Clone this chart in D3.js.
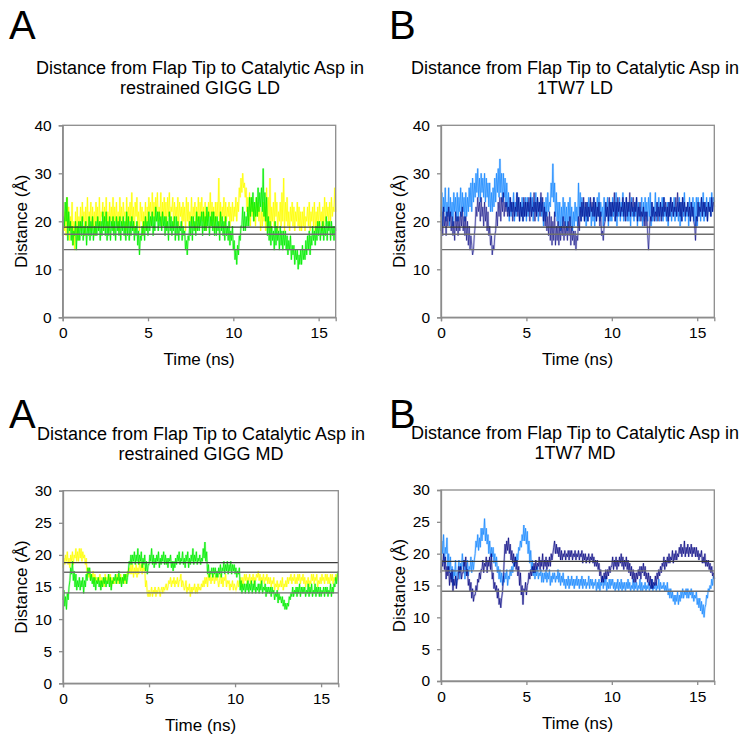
<!DOCTYPE html>
<html>
<head>
<meta charset="utf-8">
<script src="https://cdn.jsdelivr.net/npm/d3@7"></script>
<style>
  body { margin: 0; background: #fff; }
  svg text { font-family: Arial, "Liberation Sans", sans-serif; fill: #000; }
</style>
</head>
<body>
<svg width="743" height="736"></svg>
<script>
// sample times, 0.05 ns apart
const timeNs = d3.range(0, 321).map(i => i / 20);
const xTicks = [0, 5, 10, 15];
const yTicksLD = [0, 10, 20, 30, 40];
const yTicksMD = [0, 5, 10, 15, 20, 25, 30];
const refLines = [18.8, 17.3, 14.1];

// restrained GIGG LD (one row per ns)
const giggLDYellow = [
  21,24,18,22,17,25,19,23,16,21,18,24,15,20,14,22,17,23,16,21,
  19,23,18,24,20,22,17,23,19,25,18,22,20,24,18,23,19,22,17,24,
  20,23,18,25,19,22,21,24,18,23,20,25,19,22,18,24,20,23,19,25,
  18,23,20,24,19,22,18,25,20,23,19,24,21,22,18,25,19,23,20,24,
  19,26,20,23,18,24,21,25,19,22,18,24,20,23,17,22,19,24,18,23,
  20,25,22,24,19,26,21,24,20,25,22,26,20,23,21,26,19,24,21,25,
  20,24,19,25,21,26,20,23,22,25,19,24,21,23,20,25,19,24,21,23,
  19,24,20,23,18,25,20,24,19,22,20,25,19,23,21,24,18,23,20,25,
  19,24,21,25,20,23,19,24,18,22,20,24,21,26,19,24,20,23,18,24,
  20,24,21,29,19,24,20,23,21,25,19,24,20,23,21,24,19,23,20,24,
  20,23,21,25,20,24,22,27,25,29,26,30,27,28,25,27,22,25,20,26,
  19,25,21,24,20,23,19,25,21,24,20,23,18,22,19,24,20,23,18,27,
  19,25,20,29,18,23,20,24,19,26,21,24,18,22,20,24,19,26,20,29,
  18,24,20,25,19,22,18,23,20,24,19,23,18,22,20,24,19,23,18,22,
  18,22,19,23,18,21,20,23,19,24,18,22,20,23,19,24,18,22,19,23,
  19,24,20,22,18,23,19,25,20,24,21,23,19,24,20,25,21,23,22,27,
  22];
const giggLDGreen = [
  17,21,19,24,20,25,16,22,18,20,16,19,15,18,17,20,14,19,16,20,
  16,20,17,21,16,19,17,20,15,19,17,21,16,20,17,21,16,19,17,20,
  17,21,18,20,16,20,17,22,18,21,17,22,16,20,17,21,16,20,18,21,
  17,20,16,21,18,20,17,21,16,20,18,21,17,20,16,22,17,21,16,20,
  17,21,18,20,16,19,17,20,15,18,13,17,16,19,17,20,16,21,18,20,
  17,22,18,21,19,22,17,21,18,23,20,22,18,22,19,21,18,22,19,21,
  17,21,18,20,16,22,18,21,17,20,18,21,16,21,17,20,16,19,18,20,
  16,19,17,18,14,16,13,17,16,20,17,21,16,21,18,20,17,22,18,21,
  18,21,19,22,17,22,18,21,18,23,19,22,17,21,19,22,18,22,17,21,
  17,21,18,20,16,22,18,21,17,20,16,21,17,19,16,20,15,18,16,19,
  14,16,12,14,11,15,13,17,16,19,19,23,18,22,18,21,19,23,19,25,
  21,25,22,26,20,24,21,25,21,27,22,26,23,27,22,31,21,26,20,25,
  17,21,16,20,15,19,16,18,14,20,15,19,16,18,14,19,15,18,14,18,
  15,18,14,17,13,16,14,17,12,15,13,15,11,14,12,14,10,13,11,14,
  11,15,12,14,12,16,13,17,14,18,13,17,15,19,16,18,15,19,16,20,
  17,20,16,19,17,20,16,19,17,21,16,20,18,20,16,20,17,19,16,19,
  18];

// 1TW7 LD
const tw7LDNavy = [
  18,22,17,23,19,21,17,22,19,23,20,22,18,21,17,20,16,22,18,21,
  17,21,18,22,19,23,18,21,17,21,16,20,15,19,14,17,15,13,14,17,
  19,23,21,25,22,24,20,25,21,23,19,24,20,23,18,22,17,19,15,17,
  13,15,14,17,18,22,19,24,21,25,20,25,22,26,21,24,22,24,21,23,
  21,25,22,24,20,24,21,23,22,26,21,25,20,24,21,23,20,25,21,24,
  21,24,22,25,20,25,21,23,22,26,20,24,21,25,22,24,21,26,22,25,
  20,23,19,22,18,21,17,22,16,21,15,20,16,22,15,19,16,20,15,19,
  16,19,17,21,16,20,17,19,16,20,17,21,15,19,16,18,15,18,14,17,
  16,21,18,23,20,24,21,25,20,24,21,24,20,23,21,25,22,24,21,25,
  21,24,20,23,21,24,19,22,17,18,16,19,20,24,21,23,20,25,21,24,
  21,24,22,26,20,24,21,25,22,24,21,23,22,25,21,24,20,25,21,24,
  22,26,21,24,22,25,21,24,22,25,20,23,21,24,20,22,21,23,19,22,
  19,22,17,14,18,21,20,24,21,23,20,22,21,24,20,23,21,24,20,23,
  21,25,22,24,21,23,20,24,21,25,22,24,21,23,22,25,21,26,22,24,
  21,24,20,25,22,24,21,23,22,24,21,23,20,24,21,23,20,19,16,21,
  20,24,21,23,22,25,21,24,22,24,21,23,20,24,22,23,21,25,22,24,
  23];
const tw7LDBlue = [
  21,26,19,25,22,27,20,24,21,27,19,25,21,24,19,26,22,25,20,26,
  20,25,22,27,21,26,22,25,20,26,21,25,22,27,23,28,22,29,24,28,
  25,30,26,31,25,29,24,30,26,29,25,30,24,29,25,28,23,28,22,26,
  22,27,23,29,24,30,26,31,25,33,26,30,24,30,25,29,23,28,22,26,
  20,25,21,24,22,26,20,24,21,26,22,25,20,24,21,25,20,24,21,25,
  20,25,21,24,22,26,21,25,20,24,22,26,21,25,20,24,22,25,21,24,
  19,24,20,25,21,26,22,24,23,28,25,32,24,28,21,26,20,24,19,24,
  18,23,19,25,20,24,19,23,18,24,20,25,19,23,18,22,19,24,20,23,
  19,28,21,26,20,25,21,24,20,23,19,24,20,25,21,24,19,23,20,25,
  19,24,20,25,21,26,20,24,21,23,19,25,20,24,21,25,19,24,20,24,
  20,25,21,24,20,26,19,24,21,25,20,24,21,26,20,24,21,25,20,24,
  20,24,19,25,21,23,20,24,21,25,19,24,20,23,21,25,19,24,20,25,
  21,24,20,25,21,26,19,24,20,23,21,26,20,24,21,25,20,24,21,25,
  20,25,21,23,20,24,19,24,21,25,20,24,21,25,20,23,21,24,20,25,
  19,24,20,25,21,26,20,23,21,24,19,25,20,24,21,25,20,24,19,25,
  19,25,21,24,20,25,21,26,20,24,21,25,20,24,22,25,21,26,22,25,
  24];

// restrained GIGG MD
const giggMDYellow = [
  18,19.5,18.5,20,19,20.5,18.5,19.5,18,20,19,20.5,18.5,20,19.5,21,19,20.5,19,21,
  19.5,21,19,20.5,19.5,20,18.5,19.5,17,18,16.5,17.5,16,17,16.5,17.5,15.5,17,16,16.5,
  15.5,16.5,16,17,15,16.5,15.5,16,15,17,16,16.5,15.5,17,16,17,15,16.5,15.5,16,
  15.5,16.5,16,17,15.5,16.5,16,17,15.5,16.5,16,17,15.5,17,16.5,17.5,17,18,17,18.5,
  17,18.5,16.5,18,17,18.5,16.5,18,17,19,17.5,18.5,17,18.5,17.5,18,15,16,14,13.5,
  14.5,13.5,14,15,13.5,14.5,14,15,13.5,14.5,14,15,14.5,13.5,14.5,15,14,15,14.5,15,
  15.5,14.5,15,16,15.5,16.5,15,16,15.5,16.5,15,16,15.5,16.5,15,16,16,17,15,16,
  15.5,14.5,15,16,14,15,14.5,15.5,13.5,15,14,15,14.5,15.5,14,15,14,15.5,14.5,15,
  14.5,15.5,15,16,15,16.5,15.5,16.5,15,17,16,17,15.5,16.5,16,17,15.5,16.5,16,17,
  16,15,16,17,15.5,16.5,15,16.5,16,17,15,16,15.5,16,14.5,15.5,15,16,14.5,15.5,
  15,14.5,15,16,15,16,15.5,16.5,15,16.5,15.5,17,16,17,15.5,16.5,16,17,15.5,16.5,
  16,17,15.5,16.5,16,17,16.5,17.5,16,17,15.5,16.5,16,17,15.5,16.5,16,17,15.5,16.5,
  15.5,16.5,15,16,15.5,16.5,14.5,15.5,15,16,14.5,15.5,15,16,15,16.5,14.5,15.5,15,16,
  15,16.5,15.5,16.5,16,17,15.5,16.5,16,17,15.5,16.5,15.5,17,16,17,15.5,16.5,16,17,
  15.5,16.5,15,16,15.5,16.5,15,16,15.5,17,16,17,15.5,16.5,16,17,15,16,15.5,16.5,
  15.5,17,16,16.5,15.5,17,16,17,15.5,16.5,15.5,17,16,17,15.5,16.5,16,17,16,17,
  16.5];
const giggMDGreen = [
  13,14.5,12,13.5,11.5,14,13,15,16,18,17,19,16,17.5,15,17,14.5,16,15,16.5,
  14.5,16,15,16.5,14,16,15,17,16,18,17,18,16,17,15.5,16.5,15,16.5,14.5,16,
  15.5,16.5,15,16,14.5,16,15,16.5,15.5,16.5,15,16,15.5,17,15,16.5,14.5,16,15.5,16.5,
  16,17,15.5,16.5,16,17.5,15.5,16.5,15,16.5,15.5,17,16,17,15.5,16.5,17.5,19,18.5,20,
  18.5,20,19,20.5,18.5,20,19,21,18.5,20,19,20.5,18,19.5,18.5,20,17.5,19,17,18.5,
  18.5,20,19,21,18.5,20,18,19.5,18.5,20,19,20.5,18,19.5,18.5,20,19,20.5,18.5,20,
  18.5,19.5,18,19.5,19,20,18,19,17.5,19,18,19.5,18.5,20,19,20.5,18.5,19.5,19,20.5,
  18.5,19.5,18,20,19,20.5,18,19.5,18.5,20,19,21,18.5,20,19,20.5,18.5,19.5,19,20,
  18.5,19.5,19,21,19.5,22,19,20.5,17,18.5,16.5,17.5,17,18,16.5,18,17,18,16.5,17.5,
  16.5,18,17,18.5,16.5,18,17.5,19,17,18.5,17.5,19,17,18.5,17.5,19,17,18.5,17.5,18.5,
  17,18,16.5,17.5,17,18,14.5,16,14,15.5,14.5,15.5,14,15.5,14.5,16,14,15.5,14.5,16,
  14,15.5,14.5,16,14,15,14.5,15.5,14,15.5,14.5,16,14,15,14.5,15.5,13.5,15,14,15,
  14,15,13.5,15,14,14.5,13,14,13.5,14.5,12.5,14,13,13.5,12.5,13.5,12,13,11.5,12.5,
  11.5,12.5,12,13.5,13,14,13.5,15,13.5,14.5,14,15,13.5,15,14,15.5,13.5,15,14,15,
  14,15,13.5,14.5,14,15.5,13.5,15,14,15.5,13.5,14.5,14,15.5,13.5,15,14,15,13.5,15,
  13.5,14.5,14,15,13.5,15,14,15,13.5,14.5,14,15.5,13.5,15,14,15.5,15,16.5,15.5,17,
  17.5];

// 1TW7 MD
const tw7MDNavy = [
  17,19,18,20,17.5,19.5,16,18,16.5,18,15,17,15.5,17.5,14,16,15,16.5,14.5,16,
  16,18,17,18,16,17,17,19,18,19.5,16.5,17.5,15,16,14,15.5,13,14.5,12.5,13.5,
  13.5,15,14,16,15.5,17,16,17.5,17.5,19,17,18.5,18,19.5,17,19,18,19.5,17.5,20,
  16,17,14.5,15.5,14,15,13,14.5,12,13,11.5,13,14,16,19,21.5,20,22,20.5,22.5,
  20,21.5,19,20.5,18.5,20,18,19.5,17.5,19,16.5,18,15,17,13.5,15,12,14.5,14,15.5,
  13.5,15,15.5,17,16,17.5,16.5,18,17,18.5,17,19,17.5,18.5,18,19.5,17.5,19,18,20,
  17.5,19,18,19.5,17.5,19,18,19.5,18,20,19,20,21,22,20,21.5,20,21,19.5,21,
  19,20.5,19,20,19.5,20.5,19,20,19.5,20.5,19,20.5,19.5,20.5,19,20,19.5,20.5,19,20,
  19.5,20.5,19,20,19.5,20.5,18.5,20,19,20,18.5,19.5,19,20,18.5,19.5,19,20,18.5,19.5,
  18,19,18,19,17.5,18.5,16.5,17.5,15.5,16.5,15.5,17,16,17.5,16,17.5,16.5,18,17,18,
  18,19.5,17.5,19,18,19.5,17.5,19,18,19.5,18.5,20,18,19.5,17.5,19,18,19.5,17.5,19,
  17,18.5,16.5,18,16,17.5,15.5,17,15.5,17,16,17.5,16.5,18,16,18,17,18.5,16.5,18,
  16,17,15.5,17,15,16.5,14.5,16,14.5,15.5,15,16.5,15,17,16,17.5,16.5,18,17,18.5,
  18,19.5,17.5,19,18,19.5,18.5,20,18.5,19.5,19,20.5,18.5,20,19,20.5,19,20,19.5,21,
  20,21.5,19.5,21,20,22,19.5,21,20,21.5,19.5,21,20,21.5,19.5,21,20,21,19.5,21,
  19.5,20.5,19,20,19.5,20.5,18.5,19.5,18.5,20,18,19,18,19,17.5,18.5,17,18,16.5,17,
  16];
const tw7MDBlue = [
  19,22,20,23,18.5,21,20,22.5,17.5,20,17,19.5,16,18,15,17.5,16.5,19,15,17,
  17,19,16,18.5,17.5,20,18,19,16,18,17,19,16.5,18,17.5,19.5,17,19,17.5,19,
  20,22,21,23,20.5,22.5,21,24,22,24,23,25.5,22,24,21.5,23,20,22,19.5,21,
  19.5,21,18.5,20,18,19.5,17,18,16,17.5,15.5,17,15,16.5,15.5,17,16,17.5,15,16.5,
  16,17.5,16.5,18,17,18.5,18,19.5,18.5,20,19,21,20.5,22,21,23,22,24.5,22,24,
  21.5,23.5,20,22,18.5,20.5,17.5,19,16.5,18,16,17.5,16.5,18,16,17,16.5,17.5,15.5,17,
  15.5,17,16,17.5,15.5,17,16,17.5,15,16.5,15.5,17,16,17,15.5,16.5,16,17.5,15.5,17,
  15,16.5,15.5,17,15,16,14.5,16,15,16.5,14.5,16,15,16.5,15,16,14.5,16,15,16.5,
  15,16,14.5,16,15,16.5,14.5,16,15,16,14.5,15.5,15,16.5,14.5,16,15,16,14.5,15.5,
  15,16,14,15.5,14.5,16,14,15.5,15,16.5,14.5,16,15,16.5,14,15.5,14.5,16,14.5,16,
  15,16,14.5,15.5,14,15.5,14.5,16,14,15.5,14.5,16,14,15.5,14.5,15.5,14,15.5,14.5,16,
  14.5,15.5,14,15,14.5,16,14,15.5,14.5,15.5,14,15,14.5,16,14,15.5,14,15,14.5,15.5,
  14,15,14.5,15.5,14,15,14.5,16,14,15,14.5,15.5,14,15,14.5,16,14,15.5,14.5,15,
  14.5,15.5,14,15,14,15.5,13.5,14.5,13,14.5,13,14,12.5,13.5,12,13.5,12.5,14,12,13.5,
  12.5,14,13,14.5,13,14,13.5,14.5,13,14.5,13,14,13.5,14.5,13,14,12.5,13.5,13,14,
  12,13,11.5,13,11,12.5,10.5,12,10,11.5,12,13.5,13,14.5,14,15,14.5,16,15,16.5,
  16];

// series are drawn in list order (last one on top): [values, colour, opacity]
const panels = [
  {label: "A", title: ["Distance from Flap Tip to Catalytic Asp in", "restrained GIGG LD"],
   box: [62.7, 335.7, 125.3, 317.3], labelPos: [9, 39], titleX: 200, yMax: 40, yTicks: yTicksLD,
   series: [[giggLDYellow, "#ffff00", 1], [giggLDGreen, "#00ee00", 1]]},
  {label: "B", title: ["Distance from Flap Tip to Catalytic Asp in", "1TW7 LD"],
   box: [441, 714.3, 125.3, 317.3], labelPos: [389, 39], titleX: 575, yMax: 40, yTicks: yTicksLD,
   series: [[tw7LDBlue, "#1e8cff", 1], [tw7LDNavy, "#000080", 0.7]]},
  {label: "A", title: ["Distance from Flap Tip to Catalytic Asp in", "restrained GIGG MD"],
   box: [63, 338.3, 490.7, 683.3], labelPos: [9, 428], titleX: 201, yMax: 30, yTicks: yTicksMD,
   series: [[giggMDYellow, "#ffff00", 1], [giggMDGreen, "#00ee00", 1]]},
  {label: "B", title: ["Distance from Flap Tip to Catalytic Asp in", "1TW7 MD"],
   box: [441, 714.3, 490, 681], labelPos: [389, 428], titleX: 575, yMax: 30, yTicks: yTicksMD,
   series: [[tw7MDBlue, "#1e8cff", 1], [tw7MDNavy, "#000080", 0.85]]}
];

const svg = d3.select("svg");

function drawPanel(p) {
  const [left, right, top, bottom] = p.box;
  const x = d3.scaleLinear().domain([0, 16]).range([left, right]);
  const y = d3.scaleLinear().domain([0, p.yMax]).range([bottom, top]);
  const g = svg.append("g");

  g.append("text")
    .attr("x", p.labelPos[0]).attr("y", p.labelPos[1])
    .style("font-size", "40px")
    .text(p.label);

  g.selectAll(".title").data(p.title).join("text")
    .attr("x", p.titleX)
    .attr("y", (d, i) => top - 51 + i * 20)
    .attr("text-anchor", "middle")
    .style("font-size", "18px")
    .text(d => d);

  // series
  const line = d3.line()
    .x((d, i) => x(timeNs[i]))
    .y(d => y(d));
  p.series.forEach(([vals, color, op]) => {
    g.append("path")
      .attr("d", line(vals))
      .attr("fill", "none")
      .attr("stroke", color)
      .attr("stroke-opacity", 0.25 * op)
      .attr("stroke-width", 2.2);
    g.append("path")
      .attr("d", line(vals))
      .attr("fill", "none")
      .attr("stroke", color)
      .attr("stroke-opacity", op)
      .attr("stroke-width", 0.8);
  });

  // horizontal reference lines
  g.selectAll(".ref").data(refLines).join("line")
    .attr("x1", left).attr("x2", right)
    .attr("y1", d => y(d)).attr("y2", d => y(d))
    .attr("stroke", (d, i) => i === 0 ? "#3a3a3a" : "#6e6e6e")
    .attr("stroke-width", 1.3);

  // frame
  g.append("rect")
    .attr("x", left).attr("y", top)
    .attr("width", right - left).attr("height", bottom - top)
    .attr("fill", "none")
    .attr("stroke", "#8c8c8c")
    .attr("stroke-width", 1.3);

  const yAxis = g.append("g")
    .attr("transform", `translate(${left},0)`)
    .call(d3.axisLeft(y).tickValues(p.yTicks).tickSize(4).tickPadding(7));
  const xAxis = g.append("g")
    .attr("transform", `translate(0,${bottom})`)
    .call(d3.axisBottom(x).tickValues(xTicks).tickSize(4).tickPadding(6));
  [yAxis, xAxis].forEach(a => {
    a.select(".domain").attr("stroke", "#8c8c8c").attr("stroke-width", 1.3);
    a.selectAll(".tick line").attr("stroke", "#8c8c8c").attr("stroke-width", 1.3);
    a.selectAll(".tick text")
      .style("font-size", "15.5px")
      .style("font-family", "Arial, 'Liberation Sans', sans-serif")
      .attr("fill", "#111");
  });

  g.append("text")
    .attr("transform", `translate(${left - 36},${(top + bottom) / 2}) rotate(-90)`)
    .attr("text-anchor", "middle")
    .style("font-size", "17px")
    .text("Distance (Å)");

  g.append("text")
    .attr("x", (left + right) / 2)
    .attr("y", bottom + 48)
    .attr("text-anchor", "middle")
    .style("font-size", "17px")
    .text("Time (ns)");
}

panels.forEach(drawPanel);
</script>
</body>
</html>
